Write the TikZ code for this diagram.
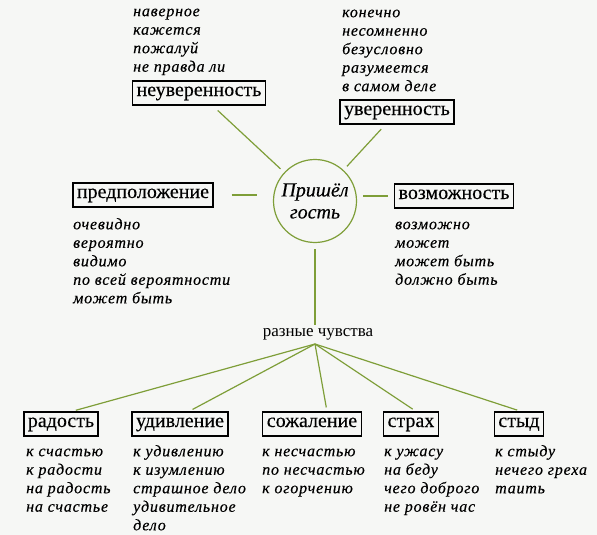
\documentclass[tikz,border=0pt]{standalone}
\usepackage{fontspec}
\setmainfont{Liberation Serif}
\usetikzlibrary{calc}
\definecolor{bg}{HTML}{F6F7F5}
\definecolor{lg}{HTML}{7E9E38}
\newcommand{\firstln}{\rule{0pt}{11pt}}
\tikzset{
  box/.style={draw=black, line width=1.3pt, inner xsep=4pt, inner ysep=5pt,
    text height=10pt, text depth=4pt, font=\fontsize{20}{22}\selectfont\addfontfeature{FakeBold=0.3}},
  lst/.style={anchor=north west, inner sep=0pt, align=left,
    font=\fontsize{16}{18.5}\selectfont\itshape\addfontfeature{LetterSpace=5,FakeBold=0.4}},
  conn/.style={draw=lg, line width=1.2pt},
}
\begin{document}
\begin{tikzpicture}[x=1pt,y=-1pt]
\fill[bg] (0,0) rectangle (597,535);
\useasboundingbox (0,0) rectangle (597,535);

% centre
\node[draw=lg, line width=1.2pt, circle, minimum size=83pt, inner sep=0pt,
  align=center, font=\fontsize{20}{22}\selectfont\itshape\addfontfeature{FakeBold=0.3}] (circ) at (315,201) {Пришёл\\гость};

% top boxes
\node[box] (neu) at (199,93) {неуверенность};
\node[box] (uve) at (397,112) {уверенность};
\node[box] (pred) at (143,195) {предположение};
\node[box] (voz) at (454,196) {возможность};

\node[lst] (l1) at (133,5) {\firstln наверное\\кажется\\пожалуй\\не правда ли};
\node[lst] (l2) at (342,6) {\firstln конечно\\несомненно\\безусловно\\разумеется\\в самом деле};
\node[lst] (l3) at (73,218) {\firstln очевидно\\вероятно\\видимо\\по всей вероятности\\может быть};
\node[lst] (l4) at (395,218) {\firstln возможно\\может\\может быть\\должно быть};

\draw[conn, shorten <=7pt, shorten >=5pt] (neu) -- (circ);
\draw[conn, shorten <=6pt, shorten >=5pt] (uve) -- (circ);
\draw[conn, shorten <=18pt, shorten >=16pt] (pred.east) -- (pred.east -| circ.west);
\draw[conn, shorten <=6pt, shorten >=6pt] (voz.west -| circ.east) -- (voz.west);

% feelings
\node[inner sep=0pt, font=\fontsize{17}{19}\selectfont] (feel) at (318,334) {разные чувства};
\coordinate (hub) at (315,344);
\draw[conn, shorten <=6pt, shorten >=3pt] (circ.south) -- (feel.north -| circ.south);

\node[box] (rad) at (61,424) {радость};
\node[box] (udi) at (180,424) {удивление};
\node[box] (soz) at (312,424) {сожаление};
\node[box] (str) at (411,424) {страх};
\node[box] (sty) at (519,424) {стыд};

\draw[conn, shorten >=4pt] (hub) -- ([xshift=11pt]rad.north);
\draw[conn, shorten >=4pt] (hub) -- ([xshift=9pt]udi.north);
\draw[conn, shorten >=4pt] (hub) -- ([xshift=15pt]soz.north);
\draw[conn, shorten >=4pt] (hub) -- ([xshift=5pt]str.north);
\draw[conn, shorten >=4pt] (hub) -- ([xshift=2pt]sty.north);

\node[lst] (b1) at (26,445) {\firstln к счастью\\к радости\\на радость\\на счастье};
\node[lst] (b2) at (133,445) {\firstln к удивлению\\к изумлению\\страшное дело\\удивительное\\дело};
\node[lst] (b3) at (262,445) {\firstln к несчастью\\по несчастью\\к огорчению};
\node[lst] (b4) at (384,445) {\firstln к ужасу\\на беду\\чего доброго\\не ровён час};
\node[lst] (b5) at (495,445) {\firstln к стыду\\нечего греха\\таить};
\end{tikzpicture}
\end{document}
